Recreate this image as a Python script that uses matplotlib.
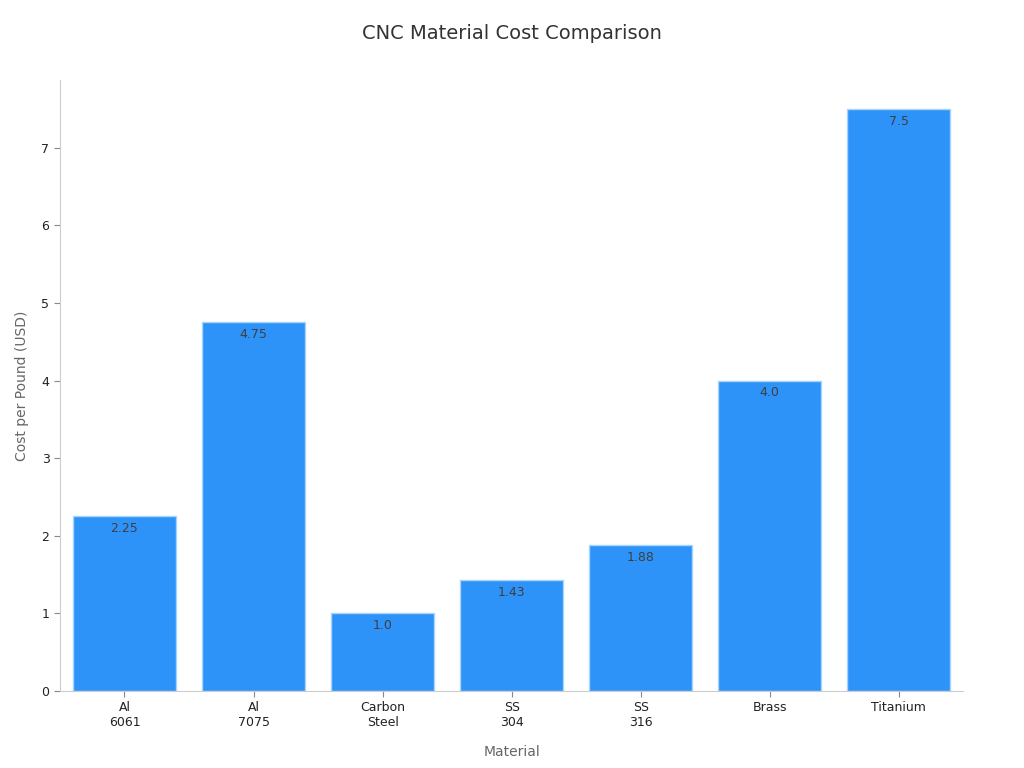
import matplotlib
matplotlib.use("Agg")
import matplotlib.pyplot as plt

categories = ["Al\n6061", "Al\n7075", "Carbon\nSteel", "SS\n304", "SS\n316", "Brass", "Titanium"]
costs = [2.25, 4.75, 1.0, 1.43, 1.88, 4.0, 7.5]

plt.rcParams['font.family'] = ['DejaVu Sans']
fig = plt.figure(figsize=(10.24, 7.68), dpi=100)
ax = fig.add_axes([0.0585, 0.1003, 0.8823, 0.7955])

x = list(range(len(categories)))
bars = ax.bar(x, costs, width=0.8, color="#2E93F9", edgecolor="#A9D3FB", linewidth=1)
for xi, v in zip(x, costs):
    ax.annotate(str(v), (xi, v), xytext=(0, -4), textcoords="offset points",
                ha="center", va="top", fontsize=9, color="#3f3f3f")

ax.set_xlim(-0.5, 6.5)
ax.set_ylim(0, max(costs) * 1.05)
ax.set_xticks(x)
ax.set_xticklabels(categories, fontsize=9, color="#222222")
ax.set_yticks(range(0, 8))
ax.tick_params(axis="y", labelsize=9, colors="#222222", length=4, color="#888888")
ax.tick_params(axis="x", length=4, color="#888888")
for s in ["top", "right"]:
    ax.spines[s].set_visible(False)
for s in ["left", "bottom"]:
    ax.spines[s].set_color("#cccccc")
ax.set_xlabel("Material", fontsize=10, color="#666666", labelpad=11)
ax.set_ylabel("Cost per Pound (USD)", fontsize=10, color="#666666", labelpad=9)
fig.text(0.5, 0.956, "CNC Material Cost Comparison", ha="center", va="center", fontsize=14, color="#333333")

fig.savefig("out.png", dpi=100)
